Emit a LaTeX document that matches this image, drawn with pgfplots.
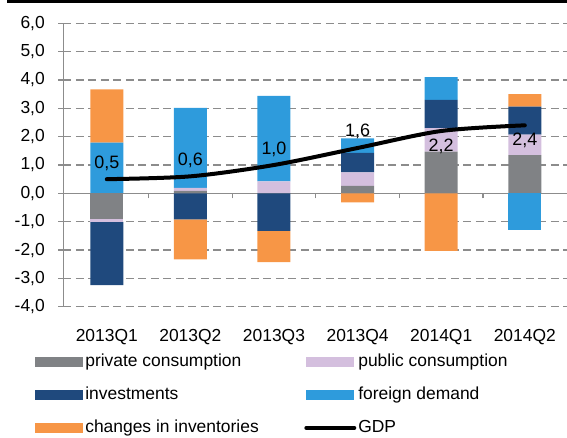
\documentclass[border=0pt]{standalone}
\usepackage{fontspec}
\setmainfont{Liberation Sans}
\usepackage{pgfplots}
\pgfplotsset{compat=1.18}
\usepackage{pgfplotstable}

\definecolor{cPriv}{HTML}{808285}
\definecolor{cPub}{HTML}{D4BFDE}
\definecolor{cInv}{HTML}{1F497D}
\definecolor{cFor}{HTML}{2E9BDC}
\definecolor{cStk}{HTML}{F79646}
\definecolor{cGrid}{HTML}{8C8C8C}

% contributions to GDP growth, percentage points
\pgfplotstableread{
x priv  pub   inv   for   stk   gdp loff
0 -0.92 -0.09 -2.23 1.79  1.88  0.5 16
1 0.09  0.10  -0.92 2.83  -1.41 0.6 16
2 0.00  0.42  -1.32 3.02  -1.11 1.0 16
3 0.26  0.48  0.69  0.51  -0.32 1.6 17
4 1.47  0.83  1.00  0.80  -2.03 2.2 -15
5 1.35  0.72  0.99  -1.30 0.44  2.4 -15
}\contrib

\pgfplotsset{
  base/.style={
    at={(0,0)}, anchor=south west, scale only axis,
    width=503.3bp, height=283.4bp,
    xmin=-0.52, xmax=5.5, ymin=-4, ymax=6,
    /pgf/number format/assume math mode=true,
    tick label style={font=\fontsize{17.5}{21}\selectfont},
  },
  barleg/.style={legend image code/.code={\fill[##1] (0bp,-5bp) rectangle (48bp,5bp);}},
}

\begin{document}
\begin{tikzpicture}
% positive parts
\begin{axis}[base, name=ax1,
  ybar stacked, bar width=33bp,
  axis x line*=bottom, x axis line style={draw=none},
  axis y line*=left, y axis line style={cGrid, line width=1.5bp, -},
  xtick={0,...,5},
  xticklabels={2013Q1,2013Q2,2013Q3,2013Q4,2014Q1,2014Q2},
  xtick style={draw=none},
  xticklabel style={yshift=-14bp},
  ytick={-4,...,6},
  ytick style={cGrid, line width=1.3bp},
  tick align=outside, major tick length=5bp,
  yticklabel style={xshift=-10bp, /pgf/number format/.cd, fixed, fixed zerofill, precision=1, use comma, /tikz/.cd},
  ymajorgrids, grid style={cGrid, line width=1.3bp, dash pattern=on 8bp off 4.5bp},
  legend columns=2,
  legend style={at={(axis description cs:-0.056,-0.157)}, anchor=north west,
    draw=none, fill=none, inner sep=0pt, row sep=12bp,
    font=\fontsize{17.5}{21}\selectfont,
    cells={anchor=west},
    nodes={inner sep=2bp, text height=13bp, text depth=4bp}},
]
\addplot[fill=cPriv, draw=none, barleg] table[x=x, y expr={max(\thisrow{priv},0)}] {\contrib};
\addlegendentry{\makebox[217bp][l]{private consumption}}
\addplot[fill=cPub, draw=none, barleg] table[x=x, y expr={max(\thisrow{pub},0)}] {\contrib};
\addlegendentry{public consumption}
\addplot[fill=cInv, draw=none, barleg] table[x=x, y expr={max(\thisrow{inv},0)}] {\contrib};
\addlegendentry{\makebox[217bp][l]{investments}}
\addplot[fill=cFor, draw=none, barleg] table[x=x, y expr={max(\thisrow{for},0)}] {\contrib};
\addlegendentry{foreign demand}
\addplot[fill=cStk, draw=none, barleg] table[x=x, y expr={max(\thisrow{stk},0)}] {\contrib};
\addlegendentry{\makebox[217bp][l]{changes in inventories}}
\addlegendimage{legend image code/.code={\draw[black, line width=4bp, line cap=round] (0bp,0bp) -- (48bp,0bp);}}
\addlegendentry{GDP}
\end{axis}
% negative parts and zero line
\begin{axis}[base,
  ybar stacked, bar width=33bp,
  axis x line*=middle, x axis line style={cGrid, line width=1.5bp, -},
  axis y line=none,
  xtick={0.5,1.5,2.5,3.5,4.5}, xticklabels={},
  xtick style={cGrid, line width=1.3bp},
  tick align=outside, major tick length=5bp,
  ytick=\empty,
]
\addplot[fill=cPriv, draw=none] table[x=x, y expr={min(\thisrow{priv},0)}] {\contrib};
\addplot[fill=cPub, draw=none] table[x=x, y expr={min(\thisrow{pub},0)}] {\contrib};
\addplot[fill=cInv, draw=none] table[x=x, y expr={min(\thisrow{inv},0)}] {\contrib};
\addplot[fill=cFor, draw=none] table[x=x, y expr={min(\thisrow{for},0)}] {\contrib};
\addplot[fill=cStk, draw=none] table[x=x, y expr={min(\thisrow{stk},0)}] {\contrib};
\end{axis}
% GDP line
\begin{axis}[base, hide axis]
\addplot[black, line width=4bp, line cap=round, smooth, no markers,
  visualization depends on={\thisrow{loff} \as \loff},
  nodes near coords,
  nodes near coords style={/pgf/number format/.cd, fixed, fixed zerofill, precision=1, use comma, /tikz/.cd},
  every node near coord/.append style={anchor=center, yshift=\loff bp, black,
    font=\fontsize{18}{21}\selectfont},
] table[x=x, y=gdp] {\contrib};
\end{axis}
\pgfresetboundingbox
\path[use as bounding box] ([shift={(-63.3bp,-130.3bp)}]ax1.south west) rectangle ([shift={(0.4bp,23.3bp)}]ax1.north east);
\fill[black] ([shift={(-56.3bp,23.3bp)}]ax1.north west) rectangle ([shift={(0.4bp,20.3bp)}]ax1.north east);
\end{tikzpicture}
\end{document}
